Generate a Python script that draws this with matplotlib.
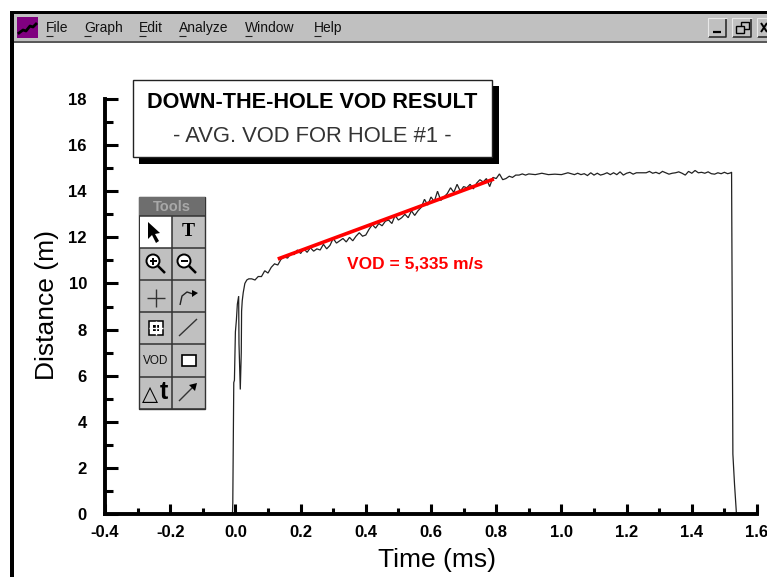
import matplotlib
matplotlib.use("Agg")
import matplotlib.pyplot as plt
from matplotlib.patches import Rectangle, Circle, Polygon
from matplotlib.ticker import MultipleLocator

plt.rcParams['font.family'] = ['Liberation Sans', 'DejaVu Sans']

# === Data ===
rise_time = [-0.009, -0.009, -0.008, -0.005, -0.003, 0.0, 0.003, 0.006, 0.010, 0.011, 0.015,
             0.018, 0.019, 0.021, 0.024, 0.029, 0.035, 0.041]
rise_dist = [0.0, 0.0, 0.5, 5.7, 5.8, 7.9, 8.4, 9.1, 9.45, 7.4, 5.4,
             7.0, 8.8, 9.25, 9.6, 10.0, 10.15, 10.2]

ramp_time = [0.05, 0.06, 0.07, 0.08, 0.09, 0.10, 0.11, 0.12, 0.13, 0.14, 0.15, 0.16, 0.17, 0.18, 0.19,
             0.20, 0.21, 0.22, 0.23, 0.24, 0.25, 0.26, 0.27, 0.28, 0.29, 0.30, 0.31, 0.32, 0.33, 0.34,
             0.35, 0.36, 0.37, 0.38, 0.39, 0.40, 0.41, 0.42, 0.43, 0.44, 0.45, 0.46, 0.47, 0.48, 0.49,
             0.50, 0.51, 0.52, 0.53, 0.54, 0.55, 0.56, 0.57, 0.58, 0.59, 0.60, 0.61, 0.62, 0.63, 0.64,
             0.65, 0.66, 0.67, 0.68, 0.69, 0.70, 0.71, 0.72, 0.73, 0.74, 0.75, 0.76, 0.77, 0.78, 0.79,
             0.80, 0.81, 0.82, 0.83, 0.84, 0.85, 0.86, 0.87, 0.88, 0.89, 0.90]
ramp_dist = [10.2, 10.15, 10.3, 10.3, 10.55, 10.45, 10.7, 10.85, 10.8, 11.05, 11.15, 11.1, 11.3, 11.25, 11.45,
             11.3, 11.5, 11.35, 11.55, 11.4, 11.5, 11.45, 11.7, 11.5, 11.65, 11.95, 11.75, 11.85, 11.95, 11.8,
             12.0, 11.85, 12.05, 12.2, 12.05, 12.1, 12.35, 12.55, 12.4, 12.6, 12.5, 12.7, 12.75, 12.6, 12.95,
             12.75, 12.85, 13.0, 12.85, 13.15, 12.95, 13.15, 13.3, 13.65, 13.4, 13.75, 13.55, 14.0, 13.6, 13.75,
             13.9, 14.15, 13.95, 14.3, 14.0, 14.2, 14.15, 14.3, 14.1, 14.35, 14.5, 14.4, 14.55, 14.2, 14.6,
             14.55, 14.75, 14.5, 14.55, 14.65, 14.6, 14.7, 14.7, 14.75, 14.7, 14.75]

plateau_time = [0.92, 0.94, 0.96, 0.98, 1.00, 1.02, 1.04, 1.05, 1.06, 1.07, 1.08, 1.09, 1.10, 1.11, 1.12,
                1.13, 1.14, 1.15, 1.16, 1.17, 1.18, 1.19, 1.20, 1.21, 1.22, 1.23, 1.24, 1.25, 1.26, 1.27,
                1.28, 1.29, 1.30, 1.31, 1.32, 1.33, 1.34, 1.35, 1.36, 1.37, 1.38, 1.39, 1.40, 1.41, 1.42,
                1.43, 1.44, 1.45, 1.46, 1.47, 1.48, 1.49, 1.50, 1.51, 1.52, 1.522, 1.526, 1.531, 1.537]
plateau_dist = [14.72, 14.78, 14.72, 14.74, 14.72, 14.8, 14.72, 14.78, 14.72, 14.76, 14.68, 14.8, 14.7, 14.78, 14.7,
                14.74, 14.8, 14.72, 14.8, 14.72, 14.84, 14.7, 14.78, 14.82, 14.74, 14.8, 14.8, 14.8, 14.8, 14.86,
                14.78, 14.82, 14.76, 14.86, 14.8, 14.74, 14.78, 14.8, 14.84, 14.78, 14.7, 14.86, 14.78, 14.9, 14.8,
                14.82, 14.78, 14.84, 14.76, 14.74, 14.8, 14.76, 14.82, 14.76, 14.8, 14.83, 2.6, 1.3, 0.0]

fit_time = [0.13, 0.793]
fit_dist = [11.06, 14.53]

x_ticks = [-0.4, -0.2, 0.0, 0.2, 0.4, 0.6, 0.8, 1.0, 1.2, 1.4, 1.6]
y_ticks = [0, 2, 4, 6, 8, 10, 12, 14, 16, 18]
menu_items = [("File", 46), ("Graph", 84), ("Edit", 139), ("Analyze", 179), ("Window", 245), ("Help", 314)]

W, H = 767, 577
GREY = '#c0c0c0'
DARK = '#808080'

fig = plt.figure(figsize=(W / 100, H / 100), dpi=100, facecolor='white')

# === Plot area ===
left, right, top, bottom = 105, 757, 99, 514
ax = fig.add_axes([left / W, 1 - bottom / H, (right - left) / W, (bottom - top) / H])
ax.set_xlim(-0.4, 1.6)
ax.set_ylim(0, 18)
ax.patch.set_alpha(0)

ax.plot(rise_time + ramp_time + plateau_time, rise_dist + ramp_dist + plateau_dist,
        color='#222222', lw=0.9, solid_joinstyle='miter')
ax.plot(fit_time, fit_dist, color='#ff0000', lw=2.6, solid_capstyle='butt')
ax.text(0.342, 10.84, "VOD = 5,335 m/s", color='#ff0000', fontsize=12.5, fontweight='bold', va='center')

for side in ['top', 'right']:
    ax.spines[side].set_visible(False)
for side in ['left', 'bottom']:
    ax.spines[side].set_linewidth(2.8)

ax.set_xticks(x_ticks)
ax.set_yticks(y_ticks)
ax.xaxis.set_minor_locator(MultipleLocator(0.1))
ax.yaxis.set_minor_locator(MultipleLocator(1))
ax.set_xticklabels([f"{v:.1f}" for v in x_ticks], fontsize=12, fontweight='bold')
ax.set_yticklabels([str(v) for v in y_ticks], fontsize=12, fontweight='bold')
ax.tick_params(axis='both', which='major', direction='in', width=2.2)
ax.tick_params(axis='x', which='major', length=7, pad=8)
ax.tick_params(axis='y', which='major', length=9, pad=13)
ax.tick_params(axis='x', which='minor', direction='in', width=2.2, length=4)
ax.tick_params(axis='y', which='minor', direction='in', width=2.2, length=5.5)

fig.text(436.5 / W, 1 - 560 / H, "Time (ms)", fontsize=19, ha='center', va='center')
fig.text(47 / W, 1 - 305 / H, "Distance (m)", fontsize=19, rotation=90, ha='center', va='center')

# === Overlay in pixel coordinates for the window and the tool palette ===
ui = fig.add_axes([0, 0, 1, 1], zorder=5)
ui.set_xlim(0, W)
ui.set_ylim(H, 0)
ui.axis('off')


def rect(x0, y0, x1, y1, fc, ec='none', lw=0, z=1):
    ui.add_patch(Rectangle((x0, y0), x1 - x0, y1 - y0, facecolor=fc, edgecolor=ec, linewidth=lw, zorder=z))


def line(xs, ys, color='black', lw=1.0, z=4):
    ui.plot(xs, ys, color=color, lw=lw, zorder=z, solid_capstyle='butt')


# window frame and menu bar
rect(10, 11, W, 14, 'black')
rect(10, 11, 14, H, 'black')
rect(14, 14, W, 41, GREY)
rect(14, 41, W, 43, '#5a5a5a')

# app icon
rect(17, 17, 38, 38, '#800080')
ui.plot([19, 23, 26, 30, 33, 36], [33, 30, 31, 26, 27, 24], color='black', lw=2, zorder=3)

for name, x in menu_items:
    ui.text(x, 28, name, fontsize=10, color='#111111', va='center', ha='left', zorder=3)
    line([x, x + 7], [36, 36], color='#222222', lw=0.8)

# window buttons
for x0, x1 in [(708, 727), (732, 752), (757, 772)]:
    line([x1 - 1, x1 - 1, x0], [18, 37, 37], color='#222222', lw=1.1)
    line([x0, x0, x1], [37, 18, 18], color='#e8e8e8', lw=0.8)
line([713, 721], [32, 32], lw=1.6)
rect(741, 22, 749, 29, 'none', ec='black', lw=1, z=3)
rect(736, 26, 744, 33, GREY, ec='black', lw=1, z=3)
line([761, 767], [23, 32], lw=1.4)
line([761, 767], [32, 23], lw=1.4)

# title box with shadow
rect(139, 86, 499, 164, 'black', z=1)
rect(133, 80, 492, 157, 'white', ec='#222222', lw=1, z=2)
ui.text(312.5, 103, "DOWN-THE-HOLE VOD RESULT", fontsize=15.6, fontweight='bold', ha='center', va='center', zorder=3)
ui.text(312.5, 136, "- AVG. VOD FOR HOLE #1 -", fontsize=15.8, color='#333333', ha='center', va='center', zorder=3)

# tool palette
pal_l, pal_m, pal_r = 139, 172, 205
rows = [216, 248, 280, 312, 344, 377, 409]
rect(pal_l, 197, pal_r, 409, GREY, ec='#333333', lw=1, z=1)
rect(pal_l, 197, pal_r, 216, '#6e6e6e', z=2)
ui.text((pal_l + pal_r) / 2, 207, "Tools", color='#a8a8a8', fontsize=10.5, fontweight='bold', ha='center', va='center', zorder=3)
rect(pal_l + 1, 216, pal_m, 248, 'white', z=2)
line([pal_m, pal_m], [216, 409], color='#333333', lw=1.1)
for y in rows:
    line([pal_l, pal_r], [y, y], color='#333333', lw=1.1)

# arrow
ui.add_patch(Polygon([(148, 222), (148, 239), (152, 235), (156, 243), (159, 241), (155, 234), (160, 233)],
                     facecolor='black', zorder=4))
ui.text(188, 232, "T", fontsize=14, family='Liberation Serif', fontweight='bold', ha='center', va='center', zorder=4)


def magnifier(cx, cy, minus_only):
    ui.add_patch(Circle((cx, cy), 6.5, facecolor='white', edgecolor='black', lw=1.4, zorder=4))
    line([cx - 3.5, cx + 3.5], [cy, cy], lw=1.4, z=5)
    if not minus_only:
        line([cx, cx], [cy - 3.5, cy + 3.5], lw=1.4, z=5)
    line([cx + 5, cx + 12], [cy + 5, cy + 12], lw=1.8)


magnifier(153, 261, False)
magnifier(184, 261, True)

# crosshair and curve tools
line([147, 165], [298, 298], color='#333333')
line([156, 156], [289, 307], color='#333333')
line([180, 182, 187, 193], [305, 296, 292, 294], color='#222222')
ui.add_patch(Polygon([(192, 290), (198, 293), (192, 297)], facecolor='black', zorder=4))

# box select and line tools
rect(149, 321, 163, 335, 'white', ec='black', lw=1.1, z=3)
rect(153, 325, 159, 331, 'black', z=4)
line([156, 156], [321, 335], color='white', lw=1)
line([149, 163], [328, 328], color='white', lw=1)
line([179, 197], [336, 319], color='#333333')

# VOD, rectangle, delta t and arrow tools
ui.text(155.5, 361, "VOD", fontsize=8.5, ha='center', va='center', zorder=4, color='#111111')
rect(182, 355, 196, 366, 'white', ec='black', lw=1.2, z=3)
ui.text(150, 394, "\u25b3", fontsize=15, family='DejaVu Sans', ha='center', va='center', zorder=4)
ui.text(164, 392, "t", fontsize=18, fontweight='bold', ha='center', va='center', zorder=4)
line([179, 194], [401, 386], color='#333333')
ui.add_patch(Polygon([(197, 383), (195, 391), (189, 385)], facecolor='black', zorder=4))

fig.savefig("out.png", dpi=100)
